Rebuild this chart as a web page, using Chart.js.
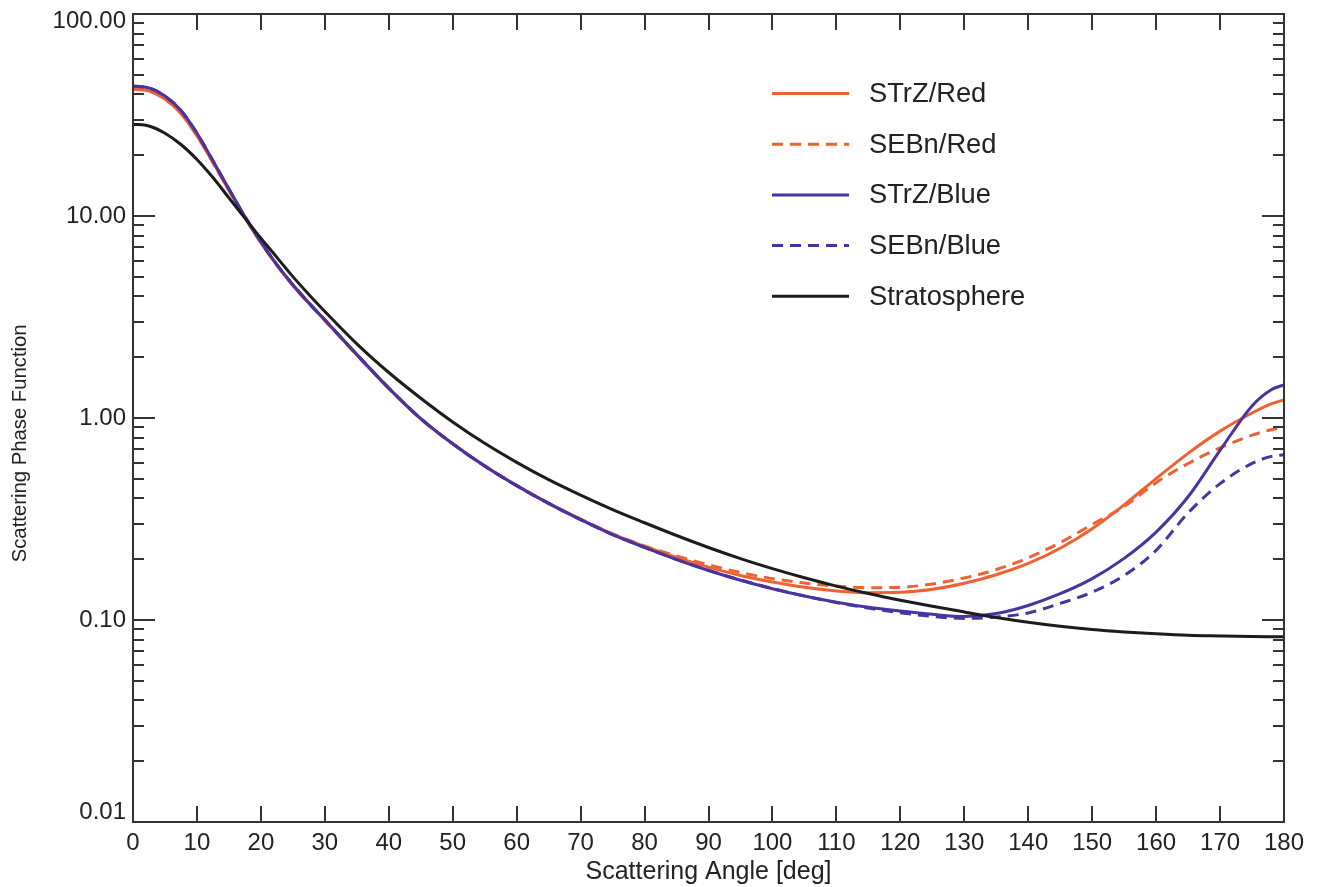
<!DOCTYPE html>
<html>
<head>
<meta charset="utf-8">
<script src="https://cdn.jsdelivr.net/npm/chart.js@4.4.1/dist/chart.umd.min.js"></script>
<style>
html,body{margin:0;padding:0;background:#ffffff;}
canvas{display:block;}
</style>
</head>
<body>
<canvas id="c" width="1320" height="887"></canvas>
<script>
// ---- data ----
const angles = [0,2.5,5,7.5,10,12.5,15,17.5,20,22.5,25,27.5,30,35,40,45,50,55,60,65,70,75,80,85,90,95,100,105,110,115,120,125,130,135,140,145,150,155,160,165,170,175,178,180];

const strzRed = [42.5,41.6,37.9,32.2,25.0,18.4,13.4,9.8,7.38,5.7,4.53,3.69,3.04,2.05,1.40,0.99,0.745,0.578,0.463,0.378,0.315,0.266,0.2312,0.2042,0.1828,0.166,0.1542,0.1452,0.1393,0.1365,0.1371,0.1419,0.152,0.1675,0.1905,0.2265,0.2831,0.3715,0.5012,0.6683,0.861,1.059,1.175,1.23];

const sebnRed = [42.5,41.6,37.9,32.2,25.0,18.4,13.4,9.8,7.38,5.7,4.53,3.69,3.04,2.05,1.40,0.99,0.745,0.578,0.463,0.378,0.316,0.267,0.2328,0.2075,0.1875,0.1718,0.1603,0.1524,0.1472,0.1445,0.1452,0.1507,0.1614,0.1778,0.2032,0.2415,0.2972,0.3648,0.4786,0.5957,0.7112,0.8222,0.875,0.8995];

const strzBlue = [44.0,43.05,39.26,33.27,25.7,18.79,13.61,9.93,7.45,5.75,4.57,3.72,3.06,2.065,1.406,0.993,0.745,0.578,0.4624,0.3776,0.314,0.265,0.2286,0.199,0.1758,0.1574,0.1429,0.1315,0.1225,0.1156,0.1107,0.1067,0.1042,0.1076,0.118,0.1349,0.1603,0.2018,0.2723,0.4074,0.6918,1.148,1.38,1.459];

const sebnBlue = [44.0,43.05,39.26,33.27,25.7,18.79,13.61,9.93,7.45,5.75,4.57,3.72,3.06,2.065,1.406,0.993,0.745,0.578,0.4624,0.3776,0.314,0.265,0.2290,0.1995,0.1763,0.1578,0.1432,0.1315,0.122,0.1145,0.1086,0.1042,0.1018,0.1035,0.1084,0.1208,0.1374,0.166,0.2213,0.3388,0.4732,0.5957,0.6457,0.6577];

const stratosphere = [28.5,27.9,25.7,22.6,19.05,15.5,12.3,9.77,7.76,6.24,5.01,4.09,3.37,2.33,1.68,1.253,0.956,0.749,0.603,0.495,0.415,0.352,0.303,0.262,0.2286,0.2014,0.1795,0.1618,0.1472,0.1352,0.1253,0.1169,0.1096,0.103,0.0975,0.0931,0.0897,0.0873,0.0855,0.0841,0.0834,0.0828,0.0826,0.0825];

const seriesLabels = ['STrZ/Red','SEBn/Red','STrZ/Blue','SEBn/Blue','Stratosphere'];

const yTickValues = [0.01,0.02,0.03,0.04,0.05,0.06,0.07,0.08,0.09,
                     0.1,0.2,0.3,0.4,0.5,0.6,0.7,0.8,0.9,
                     1,2,3,4,5,6,7,8,9,
                     10,20,30,40,50,60,70,80,90,100];
const yMajorValues = [0.01,0.1,1,10,100];
const yTickLabels = ['0.01','0.10','1.00','10.00','100.00'];
const xTickLabels = ['0','10','20','30','40','50','60','70','80','90','100','110','120','130','140','150','160','170','180'];

const xTitle = 'Scattering Angle [deg]';
const yTitle = 'Scattering Phase Function';

// ---- styling ----
const ORANGE = '#EE6131';
const BLUE = '#4A33A0';
const BLACK = '#1c1c1c';
const AXIS = '#333333';
const TEXT = '#222222';
const FONT = "'Liberation Sans', Arial, Helvetica, sans-serif";

function pts(vals){ return angles.map((a,i)=>({x:a, y:vals[i]})); }
function majorIndex(v){ return yMajorValues.findIndex(m => Math.abs(m - v) < m*1e-6); }

const datasets = [
  {label: seriesLabels[0], data: pts(strzRed), borderColor: ORANGE, borderWidth: 3, order: 5},
  {label: seriesLabels[1], data: pts(sebnRed), borderColor: ORANGE, borderWidth: 3, borderDash: [11,7], order: 4},
  {label: seriesLabels[2], data: pts(strzBlue), borderColor: BLUE, borderWidth: 3, order: 3},
  {label: seriesLabels[3], data: pts(sebnBlue), borderColor: BLUE, borderWidth: 3, borderDash: [11,7], order: 2},
  {label: seriesLabels[4], data: pts(stratosphere), borderColor: BLACK, borderWidth: 3, order: 1}
].map(d => Object.assign({pointRadius: 0, fill: false, cubicInterpolationMode: 'monotone', backgroundColor: d.borderColor}, d));

// frame + inward ticks on all four sides
const framePlugin = {
  id: 'frameTicks',
  afterDatasetsDraw(chart){
    const {ctx, chartArea: a, scales: {x, y}} = chart;
    ctx.save();
    ctx.strokeStyle = AXIS;
    ctx.lineWidth = 2;
    ctx.strokeRect(a.left, a.top, a.right - a.left, a.bottom - a.top);
    ctx.beginPath();
    x.ticks.forEach(t => {
      const px = Math.round(x.getPixelForValue(t.value));
      ctx.moveTo(px, a.bottom); ctx.lineTo(px, a.bottom - 16);
      ctx.moveTo(px, a.top); ctx.lineTo(px, a.top + 16);
    });
    y.ticks.forEach(t => {
      const py = Math.round(y.getPixelForValue(t.value));
      const len = majorIndex(t.value) >= 0 ? 22 : 11;
      ctx.moveTo(a.left, py); ctx.lineTo(a.left + len, py);
      ctx.moveTo(a.right, py); ctx.lineTo(a.right - len, py);
    });
    ctx.stroke();
    ctx.restore();
  }
};

// legend inside the plot area
const legendPlugin = {
  id: 'insideLegend',
  afterDraw(chart){
    const ctx = chart.ctx;
    ctx.save();
    chart.data.datasets.forEach((ds, i) => {
      const yy = 93.5 + i * 50.7;
      ctx.strokeStyle = ds.borderColor;
      ctx.lineWidth = 3;
      ctx.setLineDash(ds.borderDash || []);
      ctx.beginPath();
      ctx.moveTo(772, yy); ctx.lineTo(849, yy);
      ctx.stroke();
      ctx.setLineDash([]);
      ctx.fillStyle = TEXT;
      ctx.font = '27.3px ' + FONT;
      ctx.textBaseline = 'middle';
      ctx.textAlign = 'left';
      ctx.fillText(ds.label, 869, yy + 1);
    });
    ctx.restore();
  }
};

new Chart(document.getElementById('c'), {
  type: 'line',
  data: {datasets},
  plugins: [framePlugin, legendPlugin],
  options: {
    responsive: false,
    animation: false,
    devicePixelRatio: 1,
    layout: {padding: {left: 0, right: 36, top: 14, bottom: 0}},
    plugins: {legend: {display: false}, tooltip: {enabled: false}},
    scales: {
      x: {
        type: 'linear', min: 0, max: 180,
        grid: {display: false, drawTicks: false},
        border: {display: false},
        afterFit(s){ s.height = 65; s.paddingLeft = 0; s.paddingRight = 0; },
        ticks: {
          stepSize: 10, autoSkip: false, maxRotation: 0, padding: 7,
          color: TEXT, font: {family: FONT, size: 24},
          callback: (v, i) => xTickLabels[i]
        },
        title: {display: true, text: xTitle, color: TEXT, font: {family: FONT, size: 25}, padding: {top: 0, bottom: 0}}
      },
      y: {
        type: 'logarithmic', min: 0.01, max: 100,
        grid: {display: false, drawTicks: false},
        border: {display: false},
        afterFit(s){ s.width = 133; s.paddingTop = 0; s.paddingBottom = 0; },
        afterBuildTicks(s){ s.ticks = yTickValues.map(v => ({value: v, major: majorIndex(v) >= 0})); },
        ticks: {
          autoSkip: false, padding: 7, color: TEXT,
          font: (c) => {
            const v = c.tick ? c.tick.value : null;
            if (v === 100) return {family: FONT, size: 24, lineHeight: '14px'};
            if (v === 0.01) return {family: FONT, size: 24, lineHeight: '20px'};
            return {family: FONT, size: 24};
          },
          callback: (v) => {
            const k = majorIndex(v);
            if (k < 0) return '';
            if (v === 100) return ['', yTickLabels[k]];
            if (v === 0.01) return [yTickLabels[k], ''];
            return yTickLabels[k];
          }
        },
        title: {display: true, text: yTitle + '\u00A0\u00A0\u00A0\u00A0\u00A0\u00A0\u00A0\u00A0\u00A0', color: TEXT, font: {family: FONT, size: 20.3}, padding: {top: 8, bottom: 0}}
      }
    }
  }
});
</script>
</body>
</html>
